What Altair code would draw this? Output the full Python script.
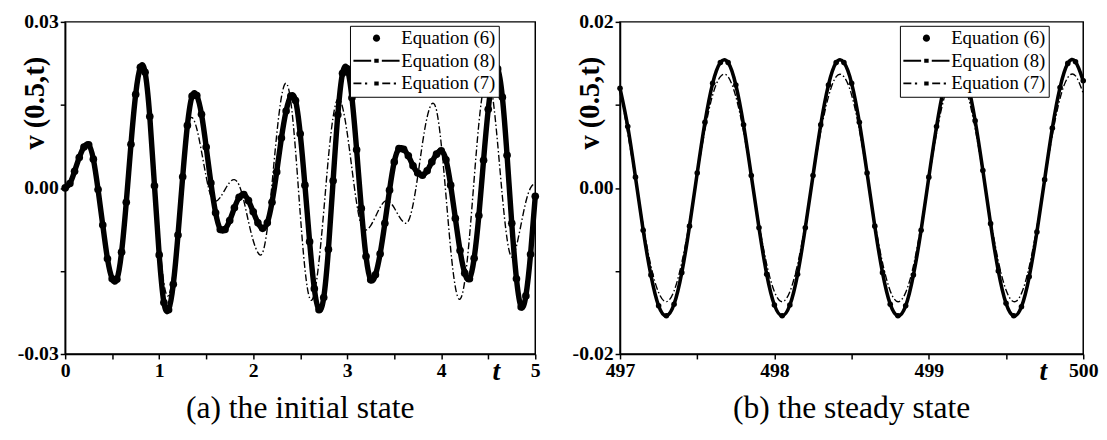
import altair as alt
import pandas as pd

# ---------------- data (values in units of 1e-3) ----------------
t_a = [0.00, 0.05, 0.10, 0.15, 0.20, 0.25, 0.30, 0.35, 0.40, 0.45,
       0.50, 0.55, 0.60, 0.65, 0.70, 0.75, 0.80, 0.85, 0.90, 0.95,
       1.00, 1.05, 1.10, 1.15, 1.20, 1.25, 1.30, 1.35, 1.40, 1.45,
       1.50, 1.55, 1.60, 1.65, 1.70, 1.75, 1.80, 1.85, 1.90, 1.95,
       2.00, 2.05, 2.10, 2.15, 2.20, 2.25, 2.30, 2.35, 2.40, 2.45,
       2.50, 2.55, 2.60, 2.65, 2.70, 2.75, 2.80, 2.85, 2.90, 2.95,
       3.00, 3.05, 3.10, 3.15, 3.20, 3.25, 3.30, 3.35, 3.40, 3.45,
       3.50, 3.55, 3.60, 3.65, 3.70, 3.75, 3.80, 3.85, 3.90, 3.95,
       4.00, 4.05, 4.10, 4.15, 4.20, 4.25, 4.30, 4.35, 4.40, 4.45,
       4.50, 4.55, 4.60, 4.65, 4.70, 4.75, 4.80, 4.85, 4.90, 4.95,
       5.00]

eq6_a = [0.0, 0.8, 3.0, 5.5, 7.4, 7.8, 5.2, -0.3, -6.7, -12.8,
         -16.4, -16.5, -11.6, -2.6, 7.9, 16.9, 21.8, 20.9, 12.9, 0.4,
         -12.1, -20.7, -22.0, -17.4, -8.5, 2.0, 11.3, 16.6, 16.7, 13.3,
         7.4, 0.9, -4.5, -7.5, -7.5, -5.9, -3.6, -1.7, -1.2, -2.3,
         -4.3, -6.3, -7.3, -6.3, -2.6, 2.9, 9.0, 13.9, 16.6, 15.8,
         9.8, 0.5, -9.7, -18.2, -22.0, -19.8, -11.1, 1.3, 13.2, 20.7,
         21.5, 16.3, 6.9, -3.7, -12.4, -16.6, -15.7, -11.9, -6.4, -0.4,
         4.7, 7.1, 7.0, 5.8, 4.0, 2.7, 2.3, 3.1, 4.7, 6.1,
         6.7, 5.1, 0.5, -5.5, -11.3, -15.4, -16.4, -12.7, -5.0, 5.0,
         14.2, 20.3, 21.5, 16.4, 5.9, -6.4, -16.4, -21.5, -19.5, -12.0,
         -1.5]

# Equation (8) coincides with Equation (6) at this scale
eq8_a = [0.0, 0.8, 3.0, 5.5, 7.4, 7.8, 5.2, -0.3, -6.7, -12.8,
         -16.4, -16.5, -11.6, -2.6, 7.9, 16.9, 21.8, 20.9, 12.9, 0.4,
         -12.1, -20.7, -22.0, -17.4, -8.5, 2.0, 11.3, 16.6, 16.7, 13.3,
         7.4, 0.9, -4.5, -7.5, -7.5, -5.9, -3.6, -1.7, -1.2, -2.3,
         -4.3, -6.3, -7.3, -6.3, -2.6, 2.9, 9.0, 13.9, 16.6, 15.8,
         9.8, 0.5, -9.7, -18.2, -22.0, -19.8, -11.1, 1.3, 13.2, 20.7,
         21.5, 16.3, 6.9, -3.7, -12.4, -16.6, -15.7, -11.9, -6.4, -0.4,
         4.7, 7.1, 7.0, 5.8, 4.0, 2.7, 2.3, 3.1, 4.7, 6.1,
         6.7, 5.1, 0.5, -5.5, -11.3, -15.4, -16.4, -12.7, -5.0, 5.0,
         14.2, 20.3, 21.5, 16.4, 5.9, -6.4, -16.4, -21.5, -19.5, -12.0,
         -1.5]

eq7_a = [0.0, 0.8, 3.0, 5.5, 7.4, 7.8, 5.2, -0.3, -6.7, -12.8,
         -16.4, -16.5, -11.6, -2.6, 7.6, 16.2, 20.6, 20.4, 14.1, 3.2,
         -8.6, -17.2, -19.4, -15.1, -6.3, 3.4, 10.9, 12.7, 10.7, 6.6,
         2.0, -1.5, -2.4, -1.7, -0.3, 1.0, 1.5, 0.5, -2.3, -6.1,
         -9.5, -11.7, -11.7, -7.3, 0.7, 9.6, 16.4, 18.9, 15.6, 6.8,
         -4.6, -14.6, -19.9, -19.1, -13.2, -4.3, 5.5, 12.8, 16.1, 14.6,
         9.9, 3.5, -2.7, -6.8, -7.6, -6.8, -5.2, -3.5, -2.4, -2.5,
         -3.6, -5.1, -6.2, -6.0, -3.0, 2.1, 8.0, 12.8, 15.2, 14.0,
         7.9, -1.3, -11.0, -17.9, -20.1, -16.8, -8.9, 1.6, 11.6, 18.2,
         19.9, 16.1, 8.0, -1.5, -9.2, -12.5, -10.5, -6.5, -2.5, 0.0,
         0.9]

t_b = [497.00, 497.05, 497.10, 497.15, 497.20, 497.25, 497.30, 497.35, 497.40, 497.45,
       497.50, 497.55, 497.60, 497.65, 497.70, 497.75, 497.80, 497.85, 497.90, 497.95,
       498.00, 498.05, 498.10, 498.15, 498.20, 498.25, 498.30, 498.35, 498.40, 498.45,
       498.50, 498.55, 498.60, 498.65, 498.70, 498.75, 498.80, 498.85, 498.90, 498.95,
       499.00, 499.05, 499.10, 499.15, 499.20, 499.25, 499.30, 499.35, 499.40, 499.45,
       499.50, 499.55, 499.60, 499.65, 499.70, 499.75, 499.80, 499.85, 499.90, 499.95,
       500.00]

eq6_b = [12.0, 7.4, 1.3, -5.1, -10.5, -14.2, -15.4, -14.0, -10.2, -4.6,
         1.8, 7.9, 12.6, 15.1, 15.1, 12.4, 7.6, 1.5, -4.8, -10.4,
         -14.1, -15.4, -14.1, -10.4, -4.8, 1.5, 7.6, 12.4, 15.1, 15.1,
         12.6, 7.9, 1.8, -4.6, -10.2, -14.0, -15.4, -14.2, -10.5, -5.1,
         1.3, 7.4, 12.3, 15.0, 15.2, 12.7, 8.1, 2.1, -4.3, -10.0,
         -13.9, -15.4, -14.3, -10.7, -5.3, 1.0, 7.2, 12.1, 15.0, 15.2,
         12.9]

eq8_b = [12.0, 7.4, 1.3, -5.1, -10.5, -14.2, -15.4, -14.0, -10.2, -4.6,
         1.8, 7.9, 12.6, 15.1, 15.1, 12.4, 7.6, 1.5, -4.8, -10.4,
         -14.1, -15.4, -14.1, -10.4, -4.8, 1.5, 7.6, 12.4, 15.1, 15.1,
         12.6, 7.9, 1.8, -4.6, -10.2, -14.0, -15.4, -14.2, -10.5, -5.1,
         1.3, 7.4, 12.3, 15.0, 15.2, 12.7, 8.1, 2.1, -4.3, -10.0,
         -13.9, -15.4, -14.3, -10.7, -5.3, 1.0, 7.2, 12.1, 15.0, 15.2,
         12.9]

eq7_b = [12.2, 6.6, 1.1, -4.5, -9.4, -12.6, -13.7, -12.4, -9.0, -4.1,
         1.6, 7.0, 11.2, 13.4, 13.4, 11.0, 6.8, 1.4, -4.3, -9.2,
         -12.5, -13.7, -12.5, -9.2, -4.3, 1.4, 6.8, 11.0, 13.4, 13.4,
         11.2, 7.0, 1.6, -4.1, -9.0, -12.4, -13.7, -12.6, -9.4, -4.5,
         1.1, 6.6, 10.9, 13.3, 13.5, 11.3, 7.2, 1.8, -3.8, -8.8,
         -12.3, -13.7, -12.7, -9.5, -4.7, 0.9, 6.4, 10.8, 13.3, 13.5,
         11.4]

series_names = ["Equation (6)", "Equation (8)", "Equation (7)"]

# legend glyphs (custom symbol paths)
sym6 = "M1.2,0A0.4,0.4,0,1,1,2.0,0A0.4,0.4,0,1,1,1.2,0Z"
sym8 = "M-1,-0.11H1.0V0.11H-1Z M1.35,-0.22H1.85V0.22H1.35Z M2.2,-0.11H4.2V0.11H2.2Z"
sym7 = ("M-1,-0.1H-0.1V0.1H-1Z M0.3,-0.12H0.55V0.12H0.3Z M1.35,-0.22H1.85V0.22H1.35Z "
        "M2.25,-0.1H3.15V0.1H2.25Z M3.55,-0.12H3.8V0.12H3.55Z")

FONT = "Liberation Serif"


def make_df(t, e6, e8, e7):
    rows = []
    for name, vals in zip(series_names, (e6, e8, e7)):
        for ti, v in zip(t, vals):
            rows.append({"t": ti, "v": v / 1000.0, "series": name})
    return pd.DataFrame(rows)


def panel(df, xdom, xvals, ydom, yvals, ylab_minor, t_title_x, subtitle,
          width, height, legend_x, pt_size, bead_width):
    x_enc = alt.X("t:Q",
                  scale=alt.Scale(domain=xdom, nice=False, zero=False),
                  axis=alt.Axis(values=xvals,
                                labelExpr="datum.value % 1 == 0 ? format(datum.value, 'd') : ''",
                                labelFlush=False, labelOverlap=False, grid=False,
                                title="t", titleX=t_title_x, titleY=18,
                                titleAlign="center", titleBaseline="middle",
                                titleFont=FONT, titleFontSize=28,
                                titleFontStyle="italic", titleFontWeight="bold"))
    y_enc = alt.Y("v:Q",
                  scale=alt.Scale(domain=ydom, nice=False, zero=False),
                  axis=alt.Axis(values=yvals,
                                labelExpr=("abs(abs(datum.value) - %g) < 0.0005 ? '' : "
                                           "replace(format(datum.value, '.2f'), '\u2212', '-')") % ylab_minor,
                                labelOverlap=False, grid=False,
                                title="v (0.5,t)", titleX=-31, titleY=82,
                                titleAngle=270, titleAlign="center",
                                titleBaseline="middle",
                                titleFont=FONT, titleFontSize=29,
                                titleFontWeight="bold"))
    base = alt.Chart(df).encode(x=x_enc, y=y_enc)

    eq7_line = base.transform_filter(alt.datum.series == "Equation (7)").mark_line(
        color="black", strokeWidth=1.4, strokeDash=[7, 2.5, 1.5, 2.5], interpolate="natural")
    eq8_line = base.transform_filter(alt.datum.series == "Equation (8)").mark_line(
        color="black", strokeWidth=1.6, interpolate="natural")
    eq6_bead = base.transform_filter(alt.datum.series == "Equation (6)").mark_line(
        color="black", strokeWidth=bead_width, interpolate="natural")
    eq6_pts = base.transform_filter(alt.datum.series == "Equation (6)").mark_point(
        filled=True, color="black", opacity=1, size=pt_size)
    legend_layer = base.mark_point(filled=True, color="black", opacity=0).encode(
        shape=alt.Shape("series:N",
                        scale=alt.Scale(domain=series_names, range=[sym6, sym8, sym7]),
                        legend=alt.Legend(title=None, orient="none",
                                          legendX=legend_x, legendY=4,
                                          strokeColor="black", fillColor="white",
                                          padding=3, rowPadding=3,
                                          symbolSize=324, labelOffset=30,
                                          symbolFillColor="black",
                                          symbolStrokeColor="black",
                                          symbolStrokeWidth=0, symbolOpacity=1,
                                          labelFont=FONT, labelFontSize=19,
                                          labelColor="black", labelLimit=300)))
    return alt.layer(eq7_line, eq8_line, eq6_bead, eq6_pts, legend_layer).properties(
        width=width, height=height,
        title=alt.TitleParams(subtitle, orient="bottom", anchor="middle",
                              font=FONT, fontSize=32, fontWeight="normal",
                              color="black", baseline="top", offset=8))


df_a = make_df(t_a, eq6_a, eq8_a, eq7_a)
df_b = make_df(t_b, eq6_b, eq8_b, eq7_b)

pa = panel(df_a, [0, 5], [0, 0.5, 1, 1.5, 2, 2.5, 3, 3.5, 4, 4.5, 5],
           [-0.03, 0.03], [-0.03, -0.015, 0, 0.015, 0.03], 0.015,
           437, "(a) the initial state", 477, 337, 289, 60, 5.5)
pb = panel(df_b, [497, 500], [497, 497.5, 498, 498.5, 499, 499.5, 500],
           [-0.02, 0.02], [-0.02, -0.01, 0, 0.01, 0.02], 0.01,
           429, "(b) the steady state", 470, 337, 284, 32, 3.6)

chart = alt.hconcat(pa, pb, spacing=23).resolve_scale(
    shape="independent").resolve_legend(shape="independent").properties(
    padding={"left": 8, "top": 0, "right": 0, "bottom": 0},
    background="white"
).configure(
    font=FONT
).configure_view(
    stroke="black", strokeWidth=1.5
).configure_axis(
    grid=False, labelFont=FONT, labelFontWeight="bold", labelFontSize=20,
    labelColor="black", titleColor="black", tickColor="black", domainColor="black",
    tickSize=5, tickWidth=1.5, domainWidth=1.5, labelPadding=2
).configure_legend(
    labelFont=FONT, labelFontSize=19, labelColor="black", labelFontWeight="normal"
)

chart.save("out.html", embed_options={"renderer": "svg", "actions": False})
